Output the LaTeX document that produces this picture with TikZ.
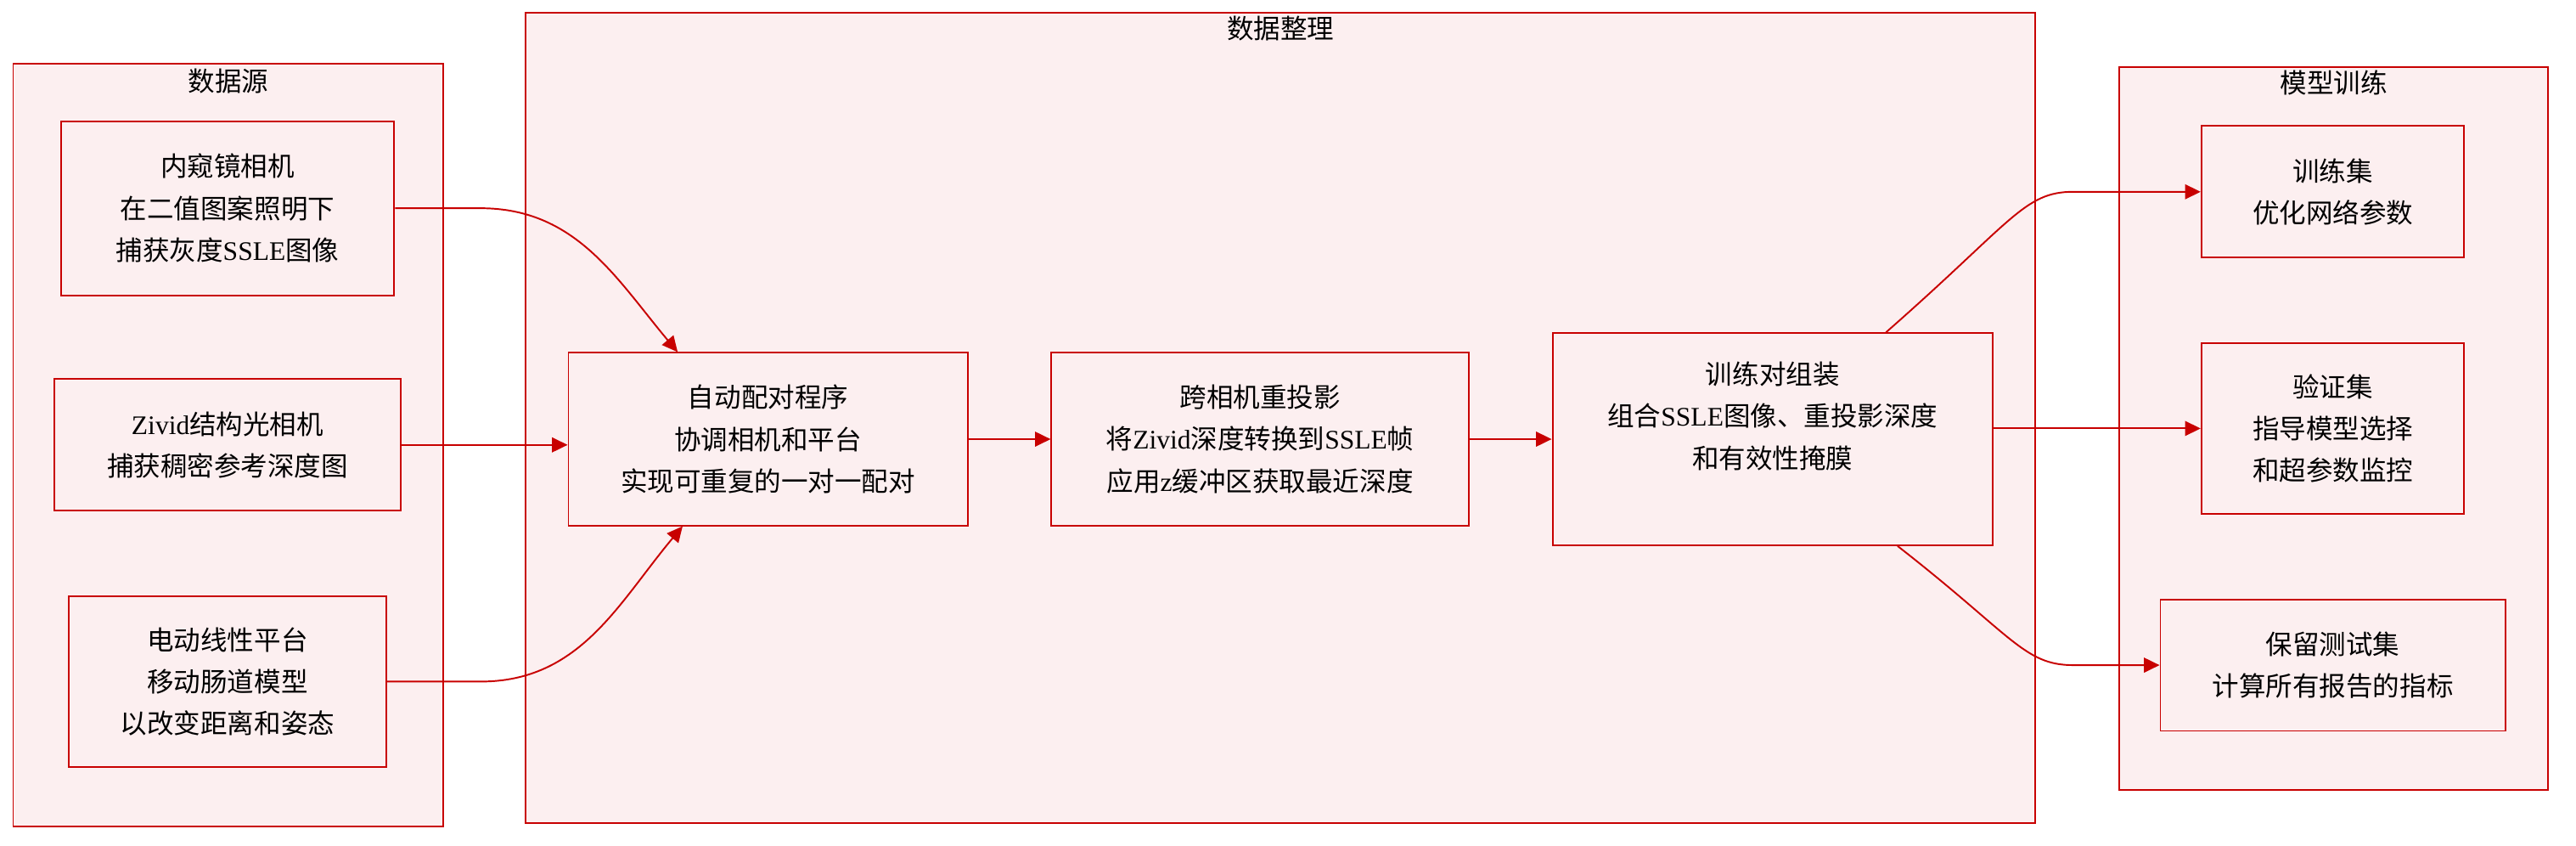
\documentclass[tikz,border=0pt]{standalone}
\usepackage{fontspec}
\setmainfont{Liberation Serif}
\newfontfamily\cjk{Noto Sans CJK SC}
\usetikzlibrary{calc, arrows.meta}

\definecolor{edgered}{RGB}{200,0,0}
\definecolor{boxpink}{RGB}{252,239,240}
\newcommand\lat[1]{{\rmfamily #1}}

\tikzset{
	box/.style={draw=edgered, fill=boxpink, line width=1pt, align=center,
		font=\cjk\fontsize{16.3}{25.5}\selectfont},
	txt/.style={align=center, font=\cjk\fontsize{16.3}{25.5}\selectfont},
	cluster/.style={draw=edgered, fill=boxpink, line width=1pt},
	ttl/.style={font=\cjk\fontsize{16.3}{20}\selectfont, inner sep=0pt},
	arr/.style={draw=edgered, line width=1pt, -{Triangle[length=9.5pt,width=9pt]}}
}

\begin{document}
\begin{tikzpicture}[x=1pt, y=1pt]
		\useasboundingbox (0,0) rectangle (1568,514.7);

		\node[cluster, minimum width=262pt, minimum height=464pt] (src) at (139,244) {};
		\node[cluster, minimum width=919pt, minimum height=493pt] (prep) at (779.5,260.5) {};
		\node[cluster, minimum width=261pt, minimum height=440pt] (train) at (1420.5,254) {};
		\node[ttl] (srcT) at ($(src.north)+(0,-11)$) {数据源};
		\node[ttl] (prepT) at ($(prep.north)+(0,-10)$) {数据整理};
		\node[ttl] (trainT) at ($(train.north)+(0,-10)$) {模型训练};

		\node[box, minimum width=203pt, minimum height=106pt] (endo) at (138.5,388) {内窥镜相机\\在二值图案照明下\\捕获灰度\lat{SSLE}图像};
		\node[box, minimum width=211pt, minimum height=80pt] (zivid) at (138.5,244) {\lat{Zivid}结构光相机\\捕获稠密参考深度图};
		\node[box, minimum width=193pt, minimum height=104pt] (stage) at (138.5,100) {电动线性平台\\移动肠道模型\\以改变距离和姿态};

		\node[box, minimum width=243pt, minimum height=105pt] (pair) at (467.5,247.5) {自动配对程序\\协调相机和平台\\实现可重复的一对一配对};
		\node[box, minimum width=254pt, minimum height=105pt] (reproj) at (767,247.5) {跨相机重投影\\将\lat{Zivid}深度转换到\lat{SSLE}帧\\应用\lat{z}缓冲区获取最近深度};
		\node[box, minimum width=268pt, minimum height=129pt] (assem) at (1079,247.5) {};
		\node[txt] (assemT) at (1079,261.5) {训练对组装\\组合\lat{SSLE}图像、重投影深度\\和有效性掩膜};

		\node[box, minimum width=160pt, minimum height=80pt] (trainset) at (1420,398) {训练集\\优化网络参数};
		\node[box, minimum width=160pt, minimum height=104pt] (valset) at (1420,254) {验证集\\指导模型选择\\和超参数监控};
		\node[box, minimum width=210pt, minimum height=80pt] (testset) at (1420,110) {保留测试集\\计算所有报告的指标};

		\draw[arr] (endo.east) -- ++(52,0) to[out=0, in=130] ($(pair.north)+(-55,0)$);
		\draw[arr] (zivid.east) -- (zivid.east -| pair.west);
		\draw[arr] (stage.east) -- ++(57,0) to[out=0, in=-130] ($(pair.south)+(-52,0)$);
		\draw[arr] (pair.east) -- (reproj.west);
		\draw[arr] (reproj.east) -- (assem.west);
		\draw[arr] ($(assem.north)+(69,0)$) .. controls (1225,380) and (1232,398) .. (1262,398) -- (trainset.west);
		\draw[arr] (assem.east |- valset.west) -- (valset.west);
		\draw[arr] ($(assem.south)+(76,0)$) .. controls (1225,128) and (1232,110) .. (1262,110) -- (testset.west);
	\end{tikzpicture}
\end{document}
